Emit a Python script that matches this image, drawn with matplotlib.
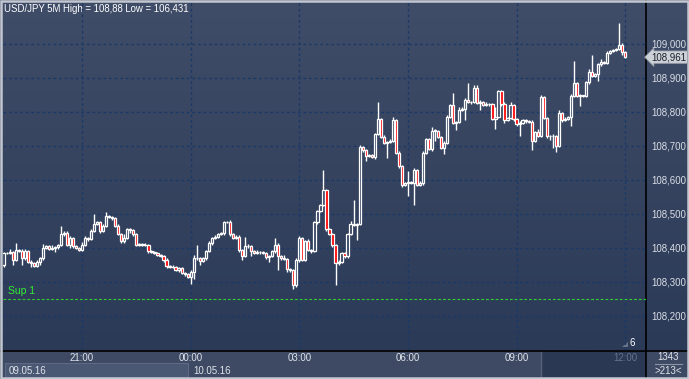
import numpy as np
import matplotlib
matplotlib.use('Agg')
import matplotlib.pyplot as plt
from matplotlib.patches import Rectangle, Polygon
from matplotlib.colors import LinearSegmentedColormap

plt.rcParams['font.family'] = ['Liberation Sans', 'DejaVu Sans']

# --- data (USD/JPY, 5 minute candles, 18:50 -> 12:00) ---
first_open = 108.349
closes = [
    108.385, 108.385, 108.388, 108.365, 108.395, 108.392, 108.370, 108.390, 108.360, 108.355,
    108.348, 108.360, 108.370, 108.400, 108.405, 108.398, 108.400, 108.402, 108.408, 108.440,
    108.445, 108.410, 108.430, 108.405, 108.400, 108.395, 108.410, 108.430, 108.425, 108.450,
    108.470, 108.475, 108.450, 108.465, 108.495, 108.490, 108.488, 108.465, 108.440, 108.420,
    108.430, 108.455, 108.452, 108.440, 108.410, 108.412, 108.410, 108.408, 108.390, 108.388,
    108.385, 108.380, 108.375, 108.365, 108.346, 108.345, 108.345, 108.335, 108.340, 108.325,
    108.322, 108.315, 108.330, 108.370, 108.370, 108.362, 108.370, 108.390, 108.415, 108.430,
    108.433, 108.440, 108.443, 108.477, 108.477, 108.440, 108.430, 108.433, 108.393, 108.375,
    108.407, 108.405, 108.390, 108.385, 108.387, 108.388, 108.385, 108.372, 108.375, 108.390,
    108.410, 108.375, 108.370, 108.367, 108.337, 108.335, 108.290, 108.365, 108.430, 108.365,
    108.420, 108.395, 108.390, 108.475, 108.510, 108.525, 108.570, 108.455, 108.440, 108.410,
    108.355, 108.360, 108.385, 108.375, 108.440, 108.470, 108.468, 108.470, 108.697, 108.687,
    108.670, 108.672, 108.668, 108.735, 108.780, 108.727, 108.710, 108.712, 108.715, 108.777,
    108.680, 108.640, 108.586, 108.590, 108.595, 108.592, 108.630, 108.585, 108.590, 108.680,
    108.720, 108.690, 108.745, 108.745, 108.725, 108.695, 108.710, 108.785, 108.820, 108.768,
    108.770, 108.807, 108.810, 108.835, 108.828, 108.830, 108.870, 108.826, 108.830, 108.820,
    108.823, 108.822, 108.780, 108.785, 108.860, 108.823, 108.777, 108.782, 108.820, 108.778,
    108.763, 108.768, 108.775, 108.773, 108.770, 108.714, 108.740, 108.730, 108.844, 108.782,
    108.728, 108.728, 108.730, 108.700, 108.797, 108.776, 108.780, 108.785, 108.846, 108.885,
    108.848, 108.848, 108.848, 108.887, 108.917, 108.907, 108.910, 108.940, 108.948, 108.945,
    108.974, 108.980, 108.982, 108.985, 108.998, 108.975, 108.961,
]
# wick lengths above / below the body, in thousandths
wick_up = [
    4, 3, 8, 3, 20, 3, 5, 6, 3, 4,
    3, 4, 3, 12, 4, 3, 8, 3, 5, 25,
    6, 4, 5, 3, 4, 3, 8, 4, 3, 6,
    30, 4, 3, 5, 10, 3, 4, 3, 5, 3,
    12, 3, 5, 3, 4, 3, 3, 4, 3, 5,
    3, 4, 3, 3, 6, 3, 4, 3, 3, 4,
    3, 3, 5, 8, 40, 4, 3, 5, 4, 3,
    5, 3, 4, 3, 3, 5, 3, 6, 4, 3,
    25, 4, 3, 5, 8, 3, 4, 3, 3, 5,
    18, 4, 3, 8, 3, 4, 3, 5, 4, 3,
    4, 5, 3, 4, 3, 5, 58, 3, 4, 3,
    3, 5, 3, 4, 3, 8, 70, 3, 6, 3,
    4, 3, 5, 4, 50, 3, 4, 3, 5, 8,
    3, 4, 3, 5, 30, 3, 4, 3, 8, 5,
    4, 3, 12, 5, 3, 4, 3, 6, 4, 36,
    3, 6, 4, 5, 50, 3, 8, 10, 4, 3,
    5, 3, 4, 30, 3, 4, 5, 3, 8, 4,
    3, 5, 3, 4, 3, 5, 4, 10, 6, 3,
    4, 3, 5, 3, 10, 3, 4, 3, 8, 66,
    3, 4, 3, 5, 8, 49, 3, 4, 8, 3,
    5, 3, 4, 3, 64, 4, 3,
]
wick_dn = [
    6, 4, 3, 15, 4, 3, 20, 4, 5, 12,
    4, 3, 10, 4, 3, 5, 3, 12, 4, 3,
    5, 3, 10, 4, 3, 5, 4, 3, 6, 3,
    4, 3, 5, 3, 4, 3, 5, 4, 3, 6,
    4, 3, 8, 4, 3, 5, 4, 3, 5, 3,
    4, 5, 3, 6, 4, 3, 3, 4, 6, 3,
    5, 3, 20, 20, 4, 12, 3, 4, 3, 5,
    3, 4, 3, 5, 3, 4, 3, 5, 4, 10,
    3, 4, 15, 4, 3, 5, 3, 4, 12, 3,
    5, 40, 4, 3, 8, 5, 10, 4, 5, 3,
    4, 3, 5, 3, 4, 5, 3, 4, 3, 6,
    65, 5, 3, 4, 5, 3, 4, 45, 3, 4,
    15, 4, 3, 5, 3, 4, 3, 45, 4, 3,
    5, 4, 6, 3, 38, 4, 65, 3, 4, 5,
    4, 3, 4, 30, 3, 5, 20, 4, 3, 5,
    20, 3, 4, 35, 3, 5, 4, 3, 20, 4,
    3, 5, 4, 30, 3, 5, 10, 4, 3, 5,
    4, 35, 3, 5, 4, 25, 3, 4, 5, 3,
    4, 10, 35, 18, 3, 5, 4, 3, 25, 3,
    3, 30, 4, 3, 5, 4, 3, 20, 4, 3,
    4, 3, 5, 3, 4, 8, 3,
]
time_ticks = [26, 62, 98, 134, 170, 206]
time_labels = ['21:00', '00:00', '03:00', '06:00', '09:00', '12:00']
price_ticks = [108.2, 108.3, 108.4, 108.5, 108.6, 108.7, 108.8, 108.9, 109.0]
sup_level = 108.25
last_price = 108.961
title = 'USD/JPY 5M High = 108,88 Low = 106,431'

opens = [first_open] + closes[:-1]
highs = [max(o, c) + u / 1000 for o, c, u in zip(opens, closes, wick_up)]
lows = [min(o, c) - d / 1000 for o, c, d in zip(opens, closes, wick_dn)]

W, H = 689, 379
fig = plt.figure(figsize=(W / 100, H / 100), dpi=100)

# background layer in pixel coordinates
bg = fig.add_axes([0, 0, 1, 1], zorder=0)
bg.set_xlim(0, W)
bg.set_ylim(H, 0)
bg.axis('off')
cmap = LinearSegmentedColormap.from_list('bgc', ['#404d68', '#2b3a57'])
bg.imshow(np.linspace(0, 1, 256).reshape(-1, 1), cmap=cmap, aspect='auto',
          extent=(0, W, 350, 0), origin='upper', zorder=0)
# bottom band
bg.add_patch(Rectangle((0, 350), W, 29, fc='#3e4a63', ec='none', zorder=1))
bg.add_patch(Rectangle((542, 351), 104, 26, fc='#2b3853', ec='none', zorder=2))
bg.add_patch(Rectangle((5, 363), 183, 14, fc='#4b5874', ec='#5d6985', lw=0.8, zorder=2))
bg.plot([541, 541], [351, 377], color='#56627c', lw=1, zorder=3)
bg.text(9, 370.5, '09.05.16', color='#dfe3ea', fontsize=7, va='center', zorder=4)
bg.text(193, 370.5, '10.05.16', color='#dfe3ea', fontsize=7, va='center', zorder=4)
bg.text(668, 357.5, '1343', color='#dfe3ea', fontsize=7, va='center', ha='center', zorder=4)
bg.plot([655, 682], [364, 364], color='#8a94a8', lw=0.8, zorder=4)
bg.text(668, 371, '>213<', color='#dfe3ea', fontsize=7, va='center', ha='center', zorder=4)
# separators and frame
bg.plot([646, 646], [0, H], color='black', lw=1.2, zorder=5)
bg.plot([0, W], [350.5, 350.5], color='black', lw=1.2, zorder=5)
bg.add_patch(Rectangle((0.8, 0.8), W - 1.6, H - 1.6, fc='none', ec='#c3c7cf', lw=1.8, zorder=6))
bg.add_patch(Polygon([[622, 347], [628, 347], [628, 342]], closed=True, fc='#6b7486', ec='none', zorder=4))
bg.text(630, 343, '6', color='white', fontsize=7, va='center', zorder=4)
bg.text(4, 8.5, title, color='white', fontsize=6.9, va='center', zorder=4)

# main chart
ax = fig.add_axes([3 / W, 29 / H, 643 / W, 350 / H], zorder=1)
ax.patch.set_alpha(0)
ax.set_xlim(-0.2, 212.9)
ax.set_ylim(108.1, 109.129)
for s in ax.spines.values():
    s.set_visible(False)

for p in price_ticks:
    ax.axhline(p, color='#1b3968', lw=1.0, ls=(0, (2.0, 2.0)), zorder=1)
for t in time_ticks:
    ax.axvline(t, color='#1b3968', lw=1.0, ls=(0, (2.0, 2.0)), zorder=1)

ax.axhline(sup_level, color='#2fd12f', lw=0.8, ls=(0, (2.5, 1.8)), zorder=2)
ax.text(1.3, sup_level + 0.024, 'Sup 1', color='#33ee33', fontsize=7.5, va='center', zorder=3)

bw = 0.74
for i, (o, h, l, c) in enumerate(zip(opens, highs, lows, closes)):
    top, bot = max(o, c), min(o, c)
    ax.plot([i, i], [top, h], color='white', lw=1.0, solid_capstyle='butt', zorder=4)
    ax.plot([i, i], [l, bot], color='white', lw=1.0, solid_capstyle='butt', zorder=4)
    fc = '#ff0000' if c < o else 'none'
    ax.add_patch(Rectangle((i - bw / 2, bot), bw, max(top - bot, 0.0004),
                           fc=fc, ec='white', lw=0.9, zorder=5))

ax.yaxis.tick_right()
ax.set_yticks(price_ticks)
ax.set_yticklabels([f'{p:.3f}'.replace('.', ',') for p in price_ticks])
ax.tick_params(axis='y', length=0, pad=4.0, labelsize=7.0, labelcolor='#d9dde5')
ax.set_xticks(time_ticks)
ax.set_xticklabels(time_labels)
ax.tick_params(axis='x', length=0, pad=2.5, labelsize=7.0, labelcolor='#dfe3ea')
ax.get_xticklabels()[-1].set_color('#67728a')

ax.text(1.008, last_price, f'{last_price:.3f}'.replace('.', ','),
        transform=ax.get_yaxis_transform(), fontsize=7, color='#1b1f2a',
        va='center', ha='left', clip_on=False, zorder=6,
        bbox=dict(boxstyle='larrow,pad=0.12', fc='#cdd1d8', ec='#9aa0aa', lw=0.6))

fig.savefig('out.png', dpi=100)
